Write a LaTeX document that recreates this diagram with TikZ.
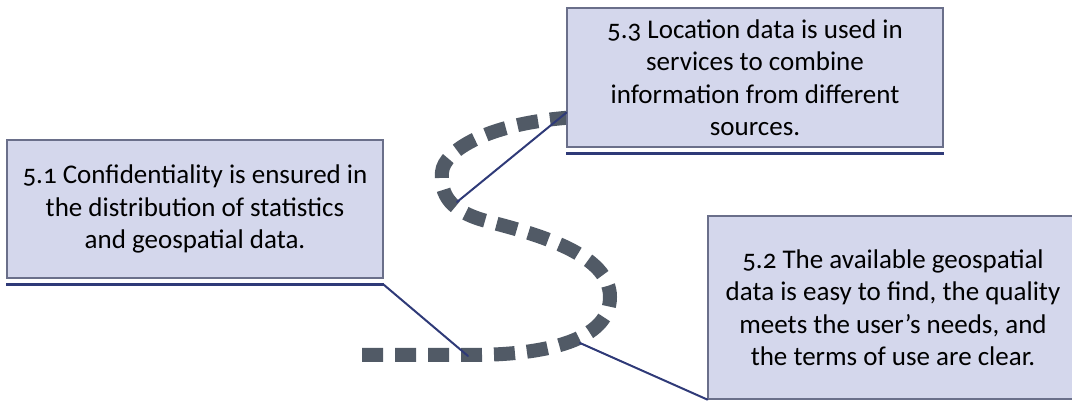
\documentclass[tikz,border=0pt]{standalone}
\usepackage{fontspec}
\setmainfont{Carlito}[Numbers=OldStyle]
\usepackage{tikz}
\usetikzlibrary{positioning}
\usetikzlibrary{calc}
\definecolor{boxfill}{HTML}{D4D7EC}
\definecolor{boxline}{HTML}{6A6F8A}
\definecolor{navy}{HTML}{2F3A78}
\definecolor{slate}{HTML}{515A66}
\tikzstyle{every node}=[font=\fontsize{27}{32.5}\selectfont]
\tikzstyle{goalbox}=[draw=boxline,fill=boxfill,line width=1.2pt,align=center,inner sep=0pt]
\tikzstyle{uline}=[draw=navy,line width=3pt]
\tikzstyle{leader}=[draw=navy,line width=2pt,line cap=round]
\tikzstyle{snake}=[draw=slate,line width=14pt,line cap=butt,dash pattern=on 21pt off 12pt]

\begin{document}
\begin{tikzpicture}[x=1pt,y=-1pt]
  \useasboundingbox (0,0) rectangle (1072,403);
  \clip (0,0) rectangle (1072,403);
  % dashed road
  \draw[snake] (362,355) -- (470,355)
    .. controls (560,355) and (610,335) .. (610,297)
    .. controls (610,255) and (540,235) .. (490,222)
    .. controls (450,212) and (440,195) .. (442,172)
    .. controls (444,150) and (490,122) .. (578,117);
  \coordinate (p51) at (468,356);
  \coordinate (p52) at (580,343);
  \coordinate (p53) at (457,202);
  %
  \node[goalbox,minimum width=376pt,minimum height=138pt] (b51) at (195,209)
    {5.1 Confidentiality is ensured in\\the distribution of statistics\\and geospatial data.};
  \node[goalbox,minimum width=376pt,minimum height=139pt] (b53) at (755,77.5)
    {5.3 Location data is used in\\services to combine\\information from different\\sources.};
  \node[goalbox,minimum width=370pt,minimum height=183pt] (b52) at (893,307.5)
    {5.2 The available geospatial\\data is easy to find, the quality\\meets the user’s needs, and\\the terms of use are clear.};
  %
  \draw[uline] ([yshift=-6pt]b51.south west) -- ([yshift=-6pt]b51.south east) coordinate (u51);
  \draw[uline] ([yshift=-6pt]b53.south west) -- ([yshift=-6pt]b53.south east);
  \draw[leader] (u51) -- (p51);
  \draw[leader] ([yshift=35pt]b53.south west) -- (p53);
  \draw[leader] (p52) -- (b52.south west);
\end{tikzpicture}
\end{document}
